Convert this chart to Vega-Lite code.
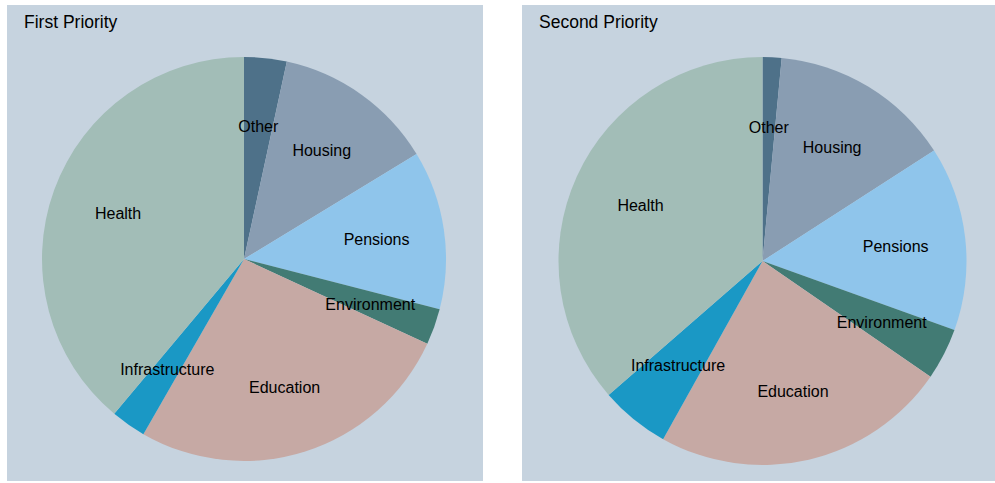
{
  "$schema": "https://vega.github.io/schema/vega-lite/v6.json",
  "padding": {"left": 7, "top": 5, "right": 0, "bottom": 2},
  "background": "white",
  "spacing": 39,
  "data": {
    "values": [
      {"chart": "First Priority", "order": 1, "category": "Other", "share": 3.4},
      {"chart": "First Priority", "order": 2, "category": "Housing", "share": 12.9},
      {"chart": "First Priority", "order": 3, "category": "Pensions", "share": 12.7},
      {"chart": "First Priority", "order": 4, "category": "Environment", "share": 2.9},
      {"chart": "First Priority", "order": 5, "category": "Education", "share": 26.4},
      {"chart": "First Priority", "order": 6, "category": "Infrastructure", "share": 2.8},
      {"chart": "First Priority", "order": 7, "category": "Health", "share": 38.9},
      {"chart": "Second Priority", "order": 1, "category": "Other", "share": 1.5},
      {"chart": "Second Priority", "order": 2, "category": "Housing", "share": 14.4},
      {"chart": "Second Priority", "order": 3, "category": "Pensions", "share": 14.6},
      {"chart": "Second Priority", "order": 4, "category": "Environment", "share": 4.1},
      {"chart": "Second Priority", "order": 5, "category": "Education", "share": 23.5},
      {"chart": "Second Priority", "order": 6, "category": "Infrastructure", "share": 5.5},
      {"chart": "Second Priority", "order": 7, "category": "Health", "share": 36.4}
    ]
  },
  "config": {
    "view": {"fill": "#c6d3df", "stroke": null},
    "font": "Liberation Sans",
    "title": {"anchor": "start", "frame": "group", "fontSize": 17.5, "fontWeight": "normal", "color": "#000000", "font": "Liberation Sans", "dx": 17, "offset": -26}
  },
  "hconcat": [
    {
      "title": "First Priority",
      "width": 476,
      "height": 476,
      "view": {"fill": "#c6d3df", "stroke": null},
      "transform": [{"filter": "datum.chart === 'First Priority'"}],
      "encoding": {
        "theta": {"field": "share", "type": "quantitative", "stack": true},
        "order": {"field": "order", "type": "quantitative"}
      },
      "layer": [
        {
          "mark": {"type": "arc", "radius": 202, "xOffset": -1, "yOffset": 16},
          "encoding": {
            "color": {
              "field": "category", "type": "nominal", "legend": null,
              "scale": {
                "domain": ["Other", "Housing", "Pensions", "Environment", "Education", "Infrastructure", "Health"],
                "range": ["#4e7189", "#899db2", "#8fc5eb", "#427b74", "#c6a9a4", "#1a98c5", "#a2bdb7"]
              }
            }
          }
        },
        {
          "mark": {"type": "text", "radius": 134, "xOffset": -1, "yOffset": 17, "fontSize": 16, "color": "#000000"},
          "encoding": {"text": {"field": "category", "type": "nominal"}}
        }
      ]
    },
    {
      "title": "Second Priority",
      "width": 473,
      "height": 476,
      "view": {"fill": "#c6d3df", "stroke": null},
      "transform": [{"filter": "datum.chart === 'Second Priority'"}],
      "encoding": {
        "theta": {"field": "share", "type": "quantitative", "stack": true},
        "order": {"field": "order", "type": "quantitative"}
      },
      "layer": [
        {
          "mark": {"type": "arc", "radius": 204, "xOffset": 4, "yOffset": 18},
          "encoding": {
            "color": {
              "field": "category", "type": "nominal", "legend": null,
              "scale": {
                "domain": ["Other", "Housing", "Pensions", "Environment", "Education", "Infrastructure", "Health"],
                "range": ["#4e7189", "#899db2", "#8fc5eb", "#427b74", "#c6a9a4", "#1a98c5", "#a2bdb7"]
              }
            }
          }
        },
        {
          "mark": {"type": "text", "radius": 134, "xOffset": 4, "yOffset": 19, "fontSize": 16, "color": "#000000"},
          "encoding": {"text": {"field": "category", "type": "nominal"}}
        }
      ]
    }
  ]
}
